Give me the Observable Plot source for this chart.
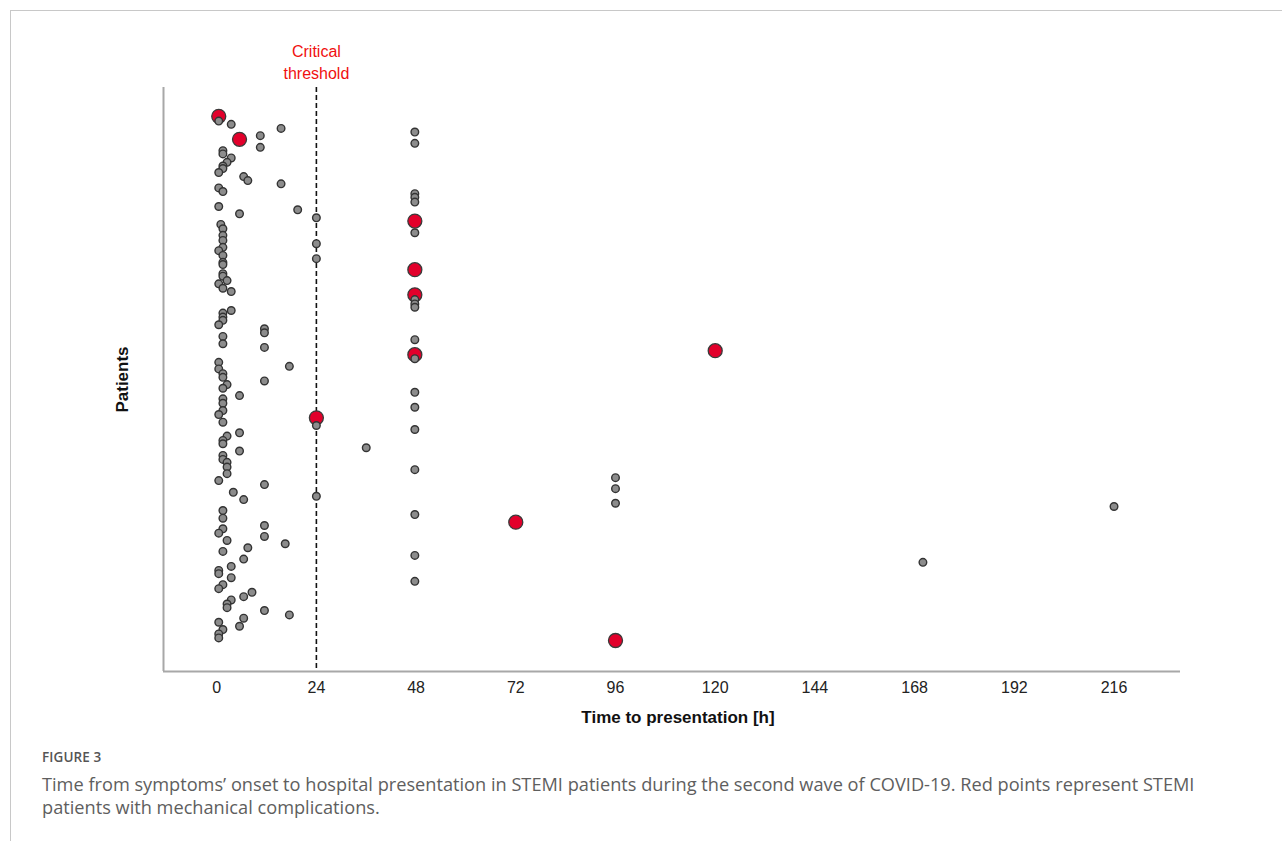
<!DOCTYPE html>
<html>
<head>
<meta charset="utf-8">
<script src="https://cdn.jsdelivr.net/npm/d3@7"></script>
<script src="https://cdn.jsdelivr.net/npm/@observablehq/plot@0.6"></script>
<style>
  html, body { margin: 0; padding: 0; background: #fff; width: 1282px; height: 841px; overflow: hidden; }
  #frame { position: absolute; left: 10px; top: 10px; right: -2px; bottom: -2px; border-left: 1px solid #c8c8c8; border-top: 1px solid #c8c8c8; }
  #chart { position: absolute; left: 0; top: 0; }
  #fig { position: absolute; left: 42px; top: 748px; font-family: "Open Sans", sans-serif; font-size: 13.5px; font-weight: 600; color: #555; letter-spacing: 0.1px; }
  #cap { position: absolute; left: 42px; top: 773px; width: 1182px; font-family: "Open Sans", sans-serif; font-size: 18.2px; line-height: 23px; color: #5e5e5e; }
</style>
</head>
<body>
<div id="frame"></div>
<div id="chart"></div>
<div id="fig">FIGURE 3</div>
<div id="cap">Time from symptoms’ onset to hospital presentation in STEMI patients during the second wave of COVID-19. Red points represent STEMI patients with mechanical complications.</div>
<script>
// Patients without mechanical complications (grey points)
const grayHours = [
  0.5, 3.5, 15.5, 10.5, 10.5, 1.5, 1.5, 3.5, 2.5, 1.5, 1.5, 0.5, 6.5, 7.5, 15.5, 0.5, 1.5, 0.5, 19.5, 5.5,
  24, 1, 1.5, 1.5, 1.5, 24, 1.5, 0.5, 1.5, 24, 1.5, 1.5, 1.5, 1.5, 2.5, 0.5, 1.5, 3.5, 3.5, 1.5,
  1.5, 1.5, 0.5, 11.5, 11.5, 1.5, 1.5, 11.5, 0.5, 17.5, 0.5, 1.5, 1.5, 11.5, 2.5, 1.5, 5.5, 1.5, 1.5, 1.5,
  0.5, 1.5, 24, 5.5, 2.5, 1.5, 1.5, 36, 5.5, 1.5, 1.5, 2.5, 2.5, 2.5, 0.5, 11.5, 4, 24, 6.5, 1.5,
  1.5, 11.5, 1.5, 0.5, 11.5, 2.5, 16.5, 7.5, 1.5, 6.5, 3.5, 0.5, 0.5, 3.5, 1.5, 0.5, 8.5, 6.5, 3.5, 2.5,
  2.5, 11.5, 17.5, 6.5, 0.5, 5.5, 1.5, 0.5, 0.5,
  47.7, 47.7, 47.7, 47.7, 47.7, 47.7, 47.7, 47.7, 47.7, 47.7, 47.7, 47.7, 47.7, 47.7, 47.7, 47.7, 47.7, 47.7,
  96, 96, 96, 216, 170
];
const grayPatient = [
  9.2, 10.1, 11.2, 13.2, 16.4, 17.3, 18.2, 19.3, 20.5, 21.5, 22.2, 23.3, 24.4, 25.5, 26.4, 27.5, 28.5, 32.6, 33.5, 34.6,
  35.7, 37.5, 38.7, 40.5, 41.9, 42.8, 43.8, 44.7, 46.0, 46.9, 47.9, 48.5, 51.0, 51.7, 52.9, 53.8, 55.0, 55.9, 61.1, 61.8,
  62.9, 63.8, 65.0, 66.1, 67.2, 68.2, 70.2, 71.2, 75.3, 76.4, 77.1, 78.4, 79.4, 80.4, 81.4, 82.4, 84.4, 85.3, 86.5, 88.5,
  89.6, 91.7, 92.6, 94.6, 95.5, 96.7, 97.6, 98.7, 99.6, 100.8, 101.9, 102.7, 104.0, 105.8, 107.7, 108.8, 110.9, 112.0, 112.9, 115.9,
  118.0, 120.0, 120.9, 122.1, 123.0, 124.1, 125.0, 126.1, 127.1, 129.2, 131.2, 132.3, 133.2, 134.3, 136.2, 137.3, 138.3, 139.5, 140.4, 141.5,
  142.5, 143.3, 144.5, 145.4, 146.5, 147.6, 148.5, 149.7, 150.8,
  12.2, 15.3, 29.1, 30.1, 31.4, 39.8, 58.1, 59.3, 60.2, 69.1, 74.3, 83.5, 87.6, 93.7, 104.7, 117.0, 128.2, 135.3,
  106.9, 109.9, 113.9, 114.8, 130.1
];
// Patients with mechanical complications (red points)
const redHours   = [0.5, 5.5, 47.7, 47.7, 47.7, 120, 47.7, 24, 72, 96];
const redPatient = [7.9, 14.2, 36.6, 49.9, 56.8, 72.1, 73.2, 90.5, 119.1, 151.5];

const xTicks = [0, 24, 48, 72, 96, 120, 144, 168, 192, 216];
const xDomain = [-12.8, 232];
const yDomain = [0, 160];
const thresholdHours = 24;
const thresholdLabel = "Critical\nthreshold";
const xLabel = "Time to presentation [h]";
const yLabel = "Patients";

const grays = grayHours.map((h, i) => ({hours: h, patient: grayPatient[i]}));
const reds = redHours.map((h, i) => ({hours: h, patient: redPatient[i]}));

const chart = Plot.plot({
  width: 1282,
  height: 735,
  marginLeft: 163,
  marginRight: 102,
  marginTop: 87,
  marginBottom: 64,
  style: {fontFamily: "Liberation Sans, Arial, sans-serif", background: "transparent", color: "#222"},
  x: {domain: xDomain},
  y: {domain: yDomain, reverse: true, axis: null},
  marks: [
    Plot.ruleX([thresholdHours], {stroke: "#111", strokeWidth: 1.6, strokeDasharray: "5,3"}),
    Plot.ruleX([xDomain[0]], {stroke: "#a8a8a8", strokeWidth: 2}),
    Plot.ruleY([yDomain[1]], {stroke: "#a8a8a8", strokeWidth: 2}),
    Plot.dot(reds, {x: "hours", y: "patient", r: 7, fill: "#e2002b", stroke: "#3a3a3a", strokeWidth: 1.3}),
    Plot.dot(grays, {x: "hours", y: "patient", r: 3.8, fill: "#8c8c8c", stroke: "#333", strokeWidth: 1.4}),
    Plot.axisX({ticks: xTicks, tickSize: 0, tickPadding: 10, fontSize: 16, fill: "#222", label: null}),
    Plot.text([thresholdLabel], {x: thresholdHours, frameAnchor: "top", lineAnchor: "middle", dy: -27, fill: "#f01010", fontSize: 16, lineHeight: 1.375}),
    Plot.text([yLabel], {frameAnchor: "left", textAnchor: "middle", lineAnchor: "middle", dx: -41, rotate: -90, fontSize: 17, fontWeight: "bold", fill: "#111"}),
    Plot.text([xLabel], {frameAnchor: "bottom", textAnchor: "middle", lineAnchor: "middle", dx: 6, dy: 46, fontSize: 17, fontWeight: "bold", fill: "#111"})
  ]
});
document.getElementById("chart").appendChild(chart);
</script>
</body>
</html>
